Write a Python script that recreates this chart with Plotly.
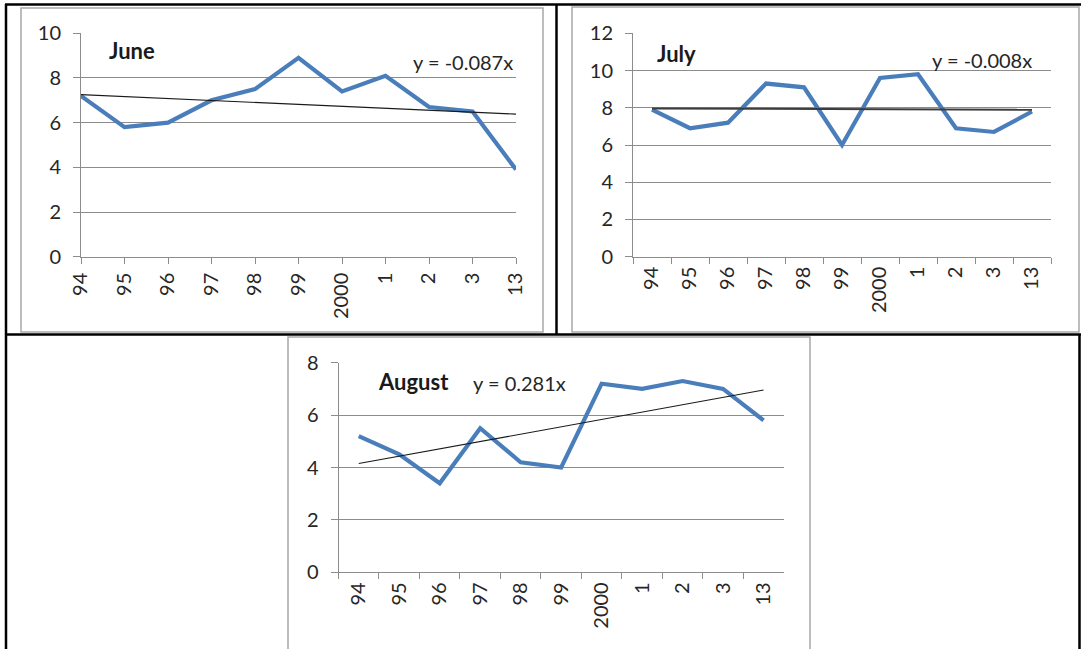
import plotly.graph_objects as go

# Years on the category axis (two-digit labels as printed on the sheet)
years = ["94", "95", "96", "97", "98", "99", "2000", "1", "2", "3", "13"]

# Monthly values per year
june = [7.2, 5.8, 6.0, 7.0, 7.5, 8.9, 7.4, 8.1, 6.7, 6.5, 3.9]
july = [7.9, 6.9, 7.2, 9.3, 9.1, 6.0, 9.6, 9.8, 6.9, 6.7, 7.8]
august = [5.2, 4.5, 3.4, 5.5, 4.2, 4.0, 7.2, 7.0, 7.3, 7.0, 5.8]

# Linear trend slopes shown in the equations
slopes = {"June": -0.087, "July": -0.008, "August": 0.281}

W, H = 1081, 649
BLUE = "#4a7ebb"
GRID = "#8c8c8c"
TXT = "#262626"
FONT = "Lato"
TICK_SIZE = 20


def fx(p):
    return p / W


def fy(p):
    return 1 - p / H


def trend(values, slope):
    n = len(values)
    mean = sum(values) / n
    mid = (n - 1) / 2
    return [mean + slope * (i - mid) for i in range(n)]


fig = go.Figure()

panels = [
    # name, values, axis suffix, x domain (px), y domain (px top, bottom), y max, on-tick categories
    ("June", june, "", (81, 516), (33.3, 256.7), 10, True),
    ("July", july, "2", (633, 1051), (33.3, 256.7), 12, False),
    ("August", august, "3", (338.5, 783.8), (362.7, 572.3), 8, False),
]

layout_axes = {}
for name, vals, sfx, (xa, xb), (yt, yb), ymax, on_tick in panels:
    xref = "x" + sfx
    yref = "y" + sfx
    fig.add_trace(go.Scatter(
        x=years, y=vals, mode="lines", xaxis=xref, yaxis=yref,
        line=dict(color=BLUE, width=4.2), showlegend=False,
    ))
    tr = trend(vals, slopes[name])
    fig.add_trace(go.Scatter(
        x=[years[0], years[-1]], y=[tr[0], tr[-1]], mode="lines",
        xaxis=xref, yaxis=yref,
        line=dict(color="#1a1a1a" if name != "July" else "#3c3c3c",
                  width=1.1 if name != "July" else 2),
        showlegend=False,
    ))
    xa_cfg = dict(
        type="category", categoryorder="array", categoryarray=years,
        domain=[fx(xa), fx(xb)], anchor=yref, automargin=False,
        showgrid=False, showline=True, linecolor=GRID, linewidth=1,
        ticks="outside", ticklen=6, tickcolor=GRID, tickwidth=1,
        tickangle=-90, tickfont=dict(family=FONT, size=TICK_SIZE, color=TXT),
        ticklabelstandoff=1,
        zeroline=False, fixedrange=True,
    )
    if on_tick:
        xa_cfg["range"] = [0, len(years) - 1]
    else:
        xa_cfg["range"] = [-0.5, len(years) - 0.5]
        xa_cfg["tickson"] = "boundaries"
    ya_cfg = dict(
        domain=[fy(yb), fy(yt)], anchor=xref, range=[0, ymax], dtick=2,
        automargin=False,
        showgrid=True, gridcolor=GRID, gridwidth=1,
        showline=True, linecolor=GRID, linewidth=1,
        ticks="outside", ticklen=7, tickcolor=GRID, tickwidth=1,
        tickfont=dict(family=FONT, size=TICK_SIZE, color=TXT),
        ticklabelstandoff=8,
        zeroline=False, fixedrange=True,
    )
    layout_axes["xaxis" + sfx] = xa_cfg
    layout_axes["yaxis" + sfx] = ya_cfg

shapes = []
# chart frames
for x0, y0, x1, y1 in [(21, 8, 543, 332), (572, 7, 1079, 332), (288, 337, 810, 660)]:
    shapes.append(dict(type="rect", xref="paper", yref="paper",
                       x0=fx(x0), x1=fx(x1), y0=fy(y1), y1=fy(y0),
                       line=dict(color="#a8a8a8", width=1.5), layer="below"))
# table rules
for x0, y0, x1, y1 in [(5, 4.5, 1081, 4.5), (6, 4, 6, 649), (556.5, 4, 556.5, 334.5),
                       (5, 334.5, 1081, 334.5), (1079.5, 334, 1079.5, 649)]:
    shapes.append(dict(type="line", xref="paper", yref="paper",
                       x0=fx(x0), x1=fx(x1), y0=fy(y0), y1=fy(y1),
                       line=dict(color="#000000", width=2.5)))

annotations = []
for text, x, y, anchor, bold in [
    ("June", 107, 51, "left", True),
    ("y = -0.087x", 515, 62, "right", False),
    ("July", 655, 53, "left", True),
    ("y = -0.008x", 1034, 60, "right", False),
    ("August", 376, 381, "left", True),
    ("y = 0.281x", 471, 383, "left", False),
]:
    annotations.append(dict(
        text=f"<b>{text}</b>" if bold else text, xref="paper", yref="paper",
        x=fx(x), y=fy(y), xanchor=anchor, yanchor="middle", showarrow=False,
        font=dict(family=FONT, size=22 if bold else 20, color="#1a1a1a" if bold else TXT),
    ))

fig.update_layout(
    width=W, height=H, autosize=False,
    margin=dict(l=0, r=0, t=0, b=0, pad=0, autoexpand=False),
    paper_bgcolor="white", plot_bgcolor="white",
    shapes=shapes, annotations=annotations,
    **layout_axes,
)

fig.write_html("out.html")
